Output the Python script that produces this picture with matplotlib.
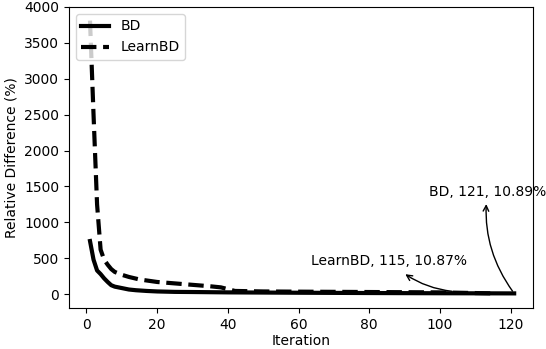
import matplotlib
matplotlib.use('Agg')
import matplotlib.pyplot as plt

# Relative difference per iteration
bd_iter = [1, 2, 3, 4, 5, 6, 7, 8, 10, 12, 14, 17, 20, 25, 30, 40, 60, 80, 100, 121]
bd_vals = [740, 480, 330, 280, 220, 170, 125, 105, 85, 65, 55, 45, 38, 32, 30, 25, 20, 16, 13, 10.89]

learn_iter = [1, 2, 3, 4, 5, 6, 7, 8, 10, 12, 15, 20, 25, 30, 35, 38, 40, 42, 50, 60, 80, 100, 115]
learn_vals = [3810, 2500, 1250, 620, 480, 410, 350, 310, 270, 240, 205, 170, 150, 130, 110, 95, 70, 45,
              38, 35, 30, 25, 10.87]

bd_label = 'BD, 121, 10.89%'
learn_label = 'LearnBD, 115, 10.87%'

fig = plt.figure(figsize=(5.46, 3.49), dpi=100)
ax = fig.add_axes([0.126, 0.118, 0.85, 0.862])

ax.plot(bd_iter, bd_vals, color='black', linestyle='-', linewidth=3, label='BD')
ax.plot(learn_iter, learn_vals, color='black', linestyle='--', linewidth=3, label='LearnBD')

# BD annotation: arrow from the last point up to the label
ax.annotate(bd_label, xy=(bd_iter[-1], bd_vals[-1]), xytext=(113.4, 1430),
            ha='center', va='center', fontsize=10,
            arrowprops=dict(arrowstyle='<-', color='black', connectionstyle='arc3,rad=0.2'))

# LearnBD annotation: label plus a short curved arrow below it
ax.text(85.6, 458, learn_label, ha='center', va='center', fontsize=10)
ax.annotate('', xy=(90.2, 278), xytext=(103.4, 40),
            arrowprops=dict(arrowstyle='->', color='black', shrinkA=0, shrinkB=0,
                            connectionstyle='arc3,rad=-0.12'))

ax.set_xlim(-5, 126.3)
ax.set_ylim(-190, 4000)
ax.set_xticks([0, 20, 40, 60, 80, 100, 120])
ax.set_yticks(range(0, 4001, 500))
ax.set_xlabel('Iteration', labelpad=2)
ax.set_ylabel('Relative Difference (%)')
ax.legend(loc='upper left')

plt.savefig('out.png', dpi=100)
plt.close()
